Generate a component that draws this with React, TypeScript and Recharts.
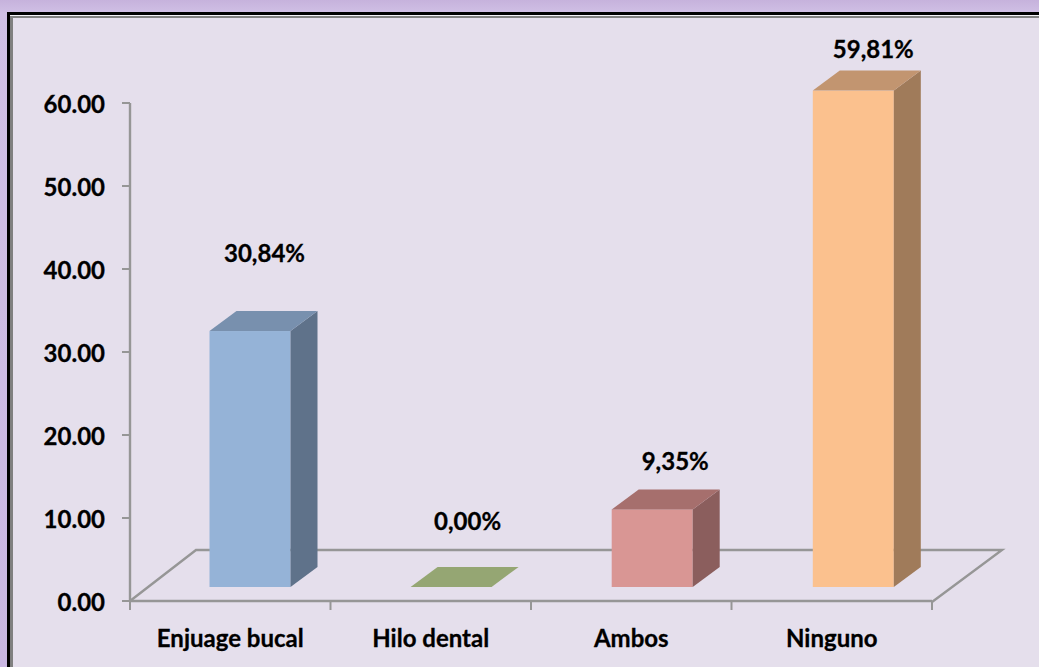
import React from 'react';
import { BarChart, Bar, XAxis, YAxis, LabelList, Customized, Cell } from 'recharts';

const categories = ['Enjuage bucal', 'Hilo dental', 'Ambos', 'Ninguno'];
const values = [30.84, 0, 9.35, 59.81];
const valueLabels = ['30,84%', '0,00%', '9,35%', '59,81%'];
const yTicks = [0, 10, 20, 30, 40, 50, 60];

const frontColors = ['#95B3D7', '#9BAF78', '#D99694', '#FBC18E'];
const topColors = ['#7890AE', '#95A673', '#A66F6D', '#C29570'];
const sideColors = ['#5F728A', '#6F8050', '#8B5E5D', '#A07B5A'];

// Where each data label sits relative to its bar (the original labels were hand-placed).
const labelShiftX = [14.5, 16.5, 23, 20];
const labelLift = [77, 65, 47, 41];

const W = 1039;
const H = 667;
const X_AXIS_H = 66;
const M = { top: 103, right: 107, bottom: 0, left: 0 };
const AXIS_W = 130;
const DEPTH_X = 27;
const DEPTH_Y = 20;
const BAR_SHIFT_X = 19.5;
const BAR_STEP_EXTRA = 0.6;
const BAR_SHIFT_Y = -14;
const GREY = '#969696';
const LINE_W = 2.4;
const FONT = 'Lato, "Open Sans", sans-serif';
const FONT_SIZE = 24;
const TEXT_WEIGHT = 0.3;

const data = categories.map((name, i) => ({ name, value: values[i], label: valueLabels[i] }));

function Bar3D(props: any) {
  const { x, y, width, height, index } = props;
  const l = x + BAR_SHIFT_X + index * BAR_STEP_EXTRA;
  const r = l + width;
  const t = y + BAR_SHIFT_Y;
  const b = t + height;
  return (
    <g>
      {height > 0 && <rect x={l} y={t} width={width} height={height} fill={frontColors[index]} />}
      {height > 0 && (
        <polygon
          points={`${r},${t} ${r + DEPTH_X},${t - DEPTH_Y} ${r + DEPTH_X},${b - DEPTH_Y} ${r},${b}`}
          fill={sideColors[index]}
        />
      )}
      <polygon
        points={`${l},${t} ${l + DEPTH_X},${t - DEPTH_Y} ${r + DEPTH_X},${t - DEPTH_Y} ${r},${t}`}
        fill={topColors[index]}
      />
    </g>
  );
}

function Floor() {
  const x0 = AXIS_W;
  const x1 = W - M.right;
  const y0 = H - X_AXIS_H;
  const backY = y0 - 51;
  return (
    <polyline
      points={`${x0},${y0} ${x0 + 66},${backY} ${x1 + 70},${backY} ${x1},${y0 + 1}`}
      fill="none"
      stroke={GREY}
      strokeWidth={LINE_W}
    />
  );
}

function XTick(props: any) {
  const { x, y, payload, index } = props;
  const band = (W - M.right - AXIS_W) / categories.length;
  const top = H - X_AXIS_H;
  return (
    <g>
      <line x1={x - band / 2} x2={x - band / 2} y1={top} y2={top + 9} stroke={GREY} strokeWidth={2} />
      {index === categories.length - 1 && (
        <line x1={x + band / 2} x2={x + band / 2} y1={top} y2={top + 9} stroke={GREY} strokeWidth={2} />
      )}
      <text
        x={x}
        y={y + 38}
        textAnchor="middle"
        fontFamily={FONT}
        fontWeight={700}
        fontSize={FONT_SIZE}
        fill="#000"
        stroke="#000"
        strokeWidth={TEXT_WEIGHT}
      >
        {payload.value}
      </text>
    </g>
  );
}

function YTick(props: any) {
  const { x, y, payload, tickFormatter, index } = props;
  return (
    <text
      x={x}
      y={y + 10}
      textAnchor="end"
      fontFamily={FONT}
      fontWeight={700}
      fontSize={FONT_SIZE}
      fill="#000"
      stroke="#000"
      strokeWidth={TEXT_WEIGHT}
    >
      {tickFormatter ? tickFormatter(payload.value, index) : payload.value}
    </text>
  );
}

function ValueLabel(props: any) {
  const { x, y, width, value, index } = props;
  return (
    <text
      x={x + BAR_SHIFT_X + width / 2 + labelShiftX[index] + index * BAR_STEP_EXTRA}
      y={y + BAR_SHIFT_Y - labelLift[index] + 8}
      textAnchor="middle"
      fontFamily={FONT}
      fontWeight={700}
      fontSize={FONT_SIZE}
      fill="#000"
      stroke="#000"
      strokeWidth={TEXT_WEIGHT}
    >
      {value}
    </text>
  );
}

export default function App() {
  return (
    <div
      style={{
        position: 'absolute',
        left: 0,
        top: 0,
        width: W,
        height: H,
        overflow: 'hidden',
        background: 'linear-gradient(180deg, #C6B2DC 0%, #D0C0E5 2%, #C9B7E2 100%)',
      }}
    >
      <div style={{ position: 'absolute', left: 7, top: 12, width: W, height: H, background: '#000' }} />
      <div style={{ position: 'absolute', left: 10, top: 15, width: W, height: H, background: '#F4F2F7' }} />
      <div style={{ position: 'absolute', left: 10, top: 16, width: W, height: H, background: '#808080' }} />
      <div style={{ position: 'absolute', left: 13, top: 18, width: W, height: H, background: '#E5DFEC' }} />
      <div style={{ position: 'absolute', left: 0, top: 0 }}>
        <BarChart width={W} height={H} data={data} margin={M} barCategoryGap={0}>
          <Customized component={Floor} />
          <XAxis
            dataKey="name"
            interval={0}
            height={X_AXIS_H}
            axisLine={{ stroke: GREY, strokeWidth: LINE_W }}
            tickLine={false}
            tick={<XTick />}
          />
          <YAxis
            width={AXIS_W}
            domain={[0, 60]}
            ticks={yTicks}
            tickFormatter={(v: number) => v.toFixed(2)}
            axisLine={{ stroke: GREY, strokeWidth: LINE_W }}
            tickLine={{ stroke: GREY, strokeWidth: 2 }}
            tickSize={8}
            tickMargin={17}
            tick={<YTick />}
          />
          <Bar dataKey="value" barSize={81} shape={<Bar3D />} isAnimationActive={false} minPointSize={0}>
            {data.map((d, i) => (
              <Cell key={d.name} fill={frontColors[i]} />
            ))}
            <LabelList dataKey="label" content={<ValueLabel />} />
          </Bar>
        </BarChart>
      </div>
    </div>
  );
}
